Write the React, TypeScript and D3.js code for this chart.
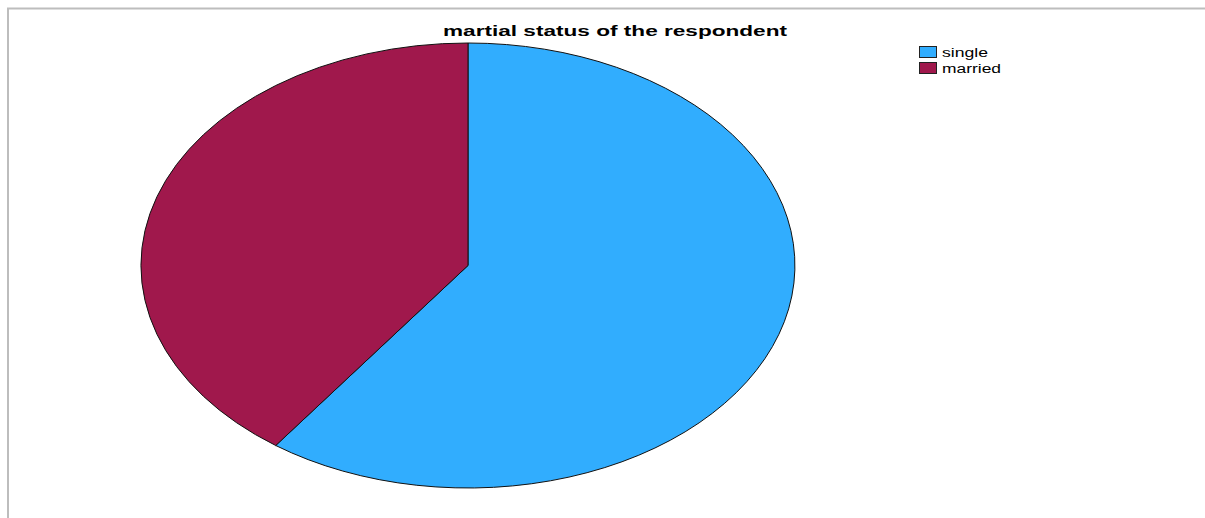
import { useEffect, useRef } from "react";
import * as d3 from "d3";

const categories = ["single", "married"];
const values = [60, 40];
const colors = ["#31adfe", "#a0184c"];
const title = "martial status of the respondent";

const W = 1205;
const H = 518;

const App = () => {
  const ref = useRef<SVGSVGElement | null>(null);

  useEffect(() => {
    if (!ref.current) return;
    const svg = d3.select(ref.current);
    svg.selectAll("*").remove();

    // frame lines (top + left)
    svg
      .append("path")
      .attr("d", "M8,518 V8.5 H1205")
      .attr("fill", "none")
      .attr("stroke", "#bdbdbd")
      .attr("stroke-width", 2);

    // the original renders its text stretched wide, so force the widths
    svg
      .append("text")
      .attr("x", 443)
      .attr("y", 36)
      .attr("font-family", "Liberation Sans, Arial, sans-serif")
      .attr("font-weight", "bold")
      .attr("font-size", 15)
      .attr("textLength", 344)
      .attr("lengthAdjust", "spacingAndGlyphs")
      .text(title);

    const pie = d3.pie<number>().sort(null).value((d) => d);
    const arc = d3.arc<d3.PieArcDatum<number>>().innerRadius(0).outerRadius(1);

    // elliptical pie: unit arcs stretched to rx/ry
    const g = svg
      .append("g")
      .attr("transform", "translate(468,265.5) scale(327,222.5)");

    g.selectAll("path")
      .data(pie(values))
      .join("path")
      .attr("d", arc)
      .attr("fill", (_, i) => colors[i])
      .attr("stroke", "#111")
      .attr("stroke-width", 1)
      .attr("vector-effect", "non-scaling-stroke");

    const legendW = [46, 59];
    const legend = svg.append("g").attr("transform", "translate(919,46)");
    const items = legend
      .selectAll("g")
      .data(categories)
      .join("g")
      .attr("transform", (_, i) => `translate(0,${i * 16})`);
    items
      .append("rect")
      .attr("x", 0.5)
      .attr("y", 0.5)
      .attr("width", 17)
      .attr("height", 11)
      .attr("fill", (_, i) => colors[i])
      .attr("stroke", "#222");
    items
      .append("text")
      .attr("x", 23)
      .attr("y", 11)
      .attr("font-family", "Liberation Sans, Arial, sans-serif")
      .attr("font-size", 12.5)
      .attr("textLength", (_, i) => legendW[i])
      .attr("lengthAdjust", "spacingAndGlyphs")
      .text((d) => d);
  }, []);

  return (
    <svg
      ref={ref}
      width={W}
      height={H}
      style={{ position: "absolute", left: 0, top: 0, background: "#fff" }}
    />
  );
};

export default App;
